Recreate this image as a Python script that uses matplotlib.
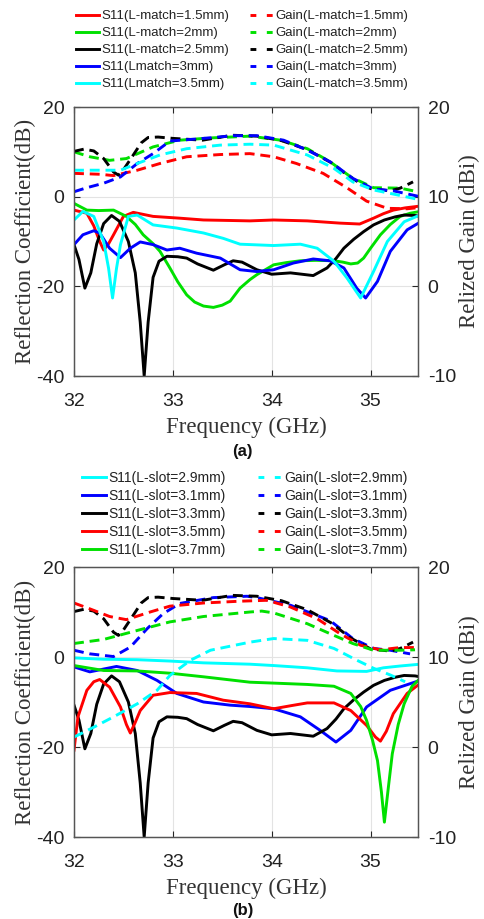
import matplotlib
matplotlib.use("Agg")
import matplotlib.pyplot as plt
from matplotlib.lines import Line2D

plt.rcParams["axes.unicode_minus"] = False

# ---------------- Panel (a): L-match ----------------
a_s11_names = ["S11(L-match=1.5mm)", "S11(L-match=2mm)", "S11(L-match=2.5mm)",
               "S11(Lmatch=3mm)", "S11(Lmatch=3.5mm)"]
a_gain_names = ["Gain(L-match=1.5mm)", "Gain(L-match=2mm)", "Gain(L-match=2.5mm)",
                "Gain(L-match=3mm)", "Gain(L-match=3.5mm)"]

# S11 (dB)
red_s11_x = [32.0, 32.13, 32.2, 32.26, 32.3, 32.35, 32.4, 32.5, 32.6, 32.8, 33.07, 33.31, 33.55, 33.78,
             34.02, 34.36, 34.69, 34.89, 35.03, 35.13, 35.23, 35.35, 35.5]
red_s11_y = [-3, -3.7, -6.5, -10, -11.9, -10.5, -8.5, -4.4, -3.5, -4.4, -4.8, -5.2, -5.3, -5.4,
             -5.2, -5.4, -5.9, -6.1, -4.8, -3.8, -3, -2.5, -2.1]

green_s11_x = [32.0, 32.13, 32.25, 32.4, 32.53, 32.62, 32.7, 32.8, 32.87, 32.97, 33.05, 33.14, 33.22, 33.31,
               33.41, 33.5, 33.58, 33.68, 33.78, 33.85, 34.02, 34.15, 34.29, 34.45, 34.63, 34.72, 34.8,
               34.87, 34.93, 35.0, 35.1, 35.2, 35.3, 35.4, 35.5]
green_s11_y = [-1.5, -3, -3.1, -3, -4.4, -6.2, -8.5, -10.5, -12.2, -15.9, -19, -21.9, -23.5, -24.4,
               -24.7, -24.2, -23.3, -20.4, -18.5, -17.4, -15.2, -14.7, -14.3, -14.2, -14.3, -14.6, -15,
               -14.8, -13.7, -11.5, -8.5, -6.2, -4.4, -3.7, -3.3]

black_s11_x = [32.0, 32.05, 32.11, 32.17, 32.23, 32.3, 32.38, 32.46, 32.55, 32.62, 32.67, 32.71, 32.75,
               32.8, 32.86, 32.94, 33.05, 33.14, 33.25, 33.41, 33.52, 33.61, 33.7, 33.85, 34.0, 34.19,
               34.42, 34.56, 34.65, 34.73, 34.83, 34.93, 35.03, 35.14, 35.25, 35.34, 35.45, 35.5]
black_s11_y = [-10.7, -14, -20.4, -17, -10.5, -6, -4.2, -5.5, -10, -17, -28, -40, -28,
               -18, -14.4, -13.3, -13.4, -13.7, -15, -16.4, -15.2, -14.3, -14.6, -16.3, -17.3, -17,
               -17.6, -15.9, -13.8, -11.5, -9.5, -7.8, -6.3, -5.2, -4.5, -4.1, -4.2, -4.4]

blue_s11_x = [32.0, 32.09, 32.2, 32.26, 32.36, 32.47, 32.57, 32.67, 32.8, 32.94, 33.07, 33.24, 33.48,
              33.68, 33.85, 34.02, 34.22, 34.42, 34.59, 34.73, 34.86, 34.95, 35.07, 35.2, 35.37, 35.5]
blue_s11_y = [-10.7, -8.5, -7.6, -8.1, -11.5, -13.6, -11.5, -10.1, -10.7, -11.9, -11.5, -12.6, -13.7,
              -16.3, -16.7, -16.3, -14.8, -13.9, -14.3, -15.9, -20.4, -22.6, -18.9, -12.2, -7.4, -5.7]

cyan_s11_x = [32.0, 32.09, 32.2, 32.3, 32.35, 32.39, 32.43, 32.47, 32.55, 32.64, 32.8, 33.04, 33.31,
              33.51, 33.68, 34.02, 34.29, 34.46, 34.63, 34.76, 34.9, 35.03, 35.17, 35.34, 35.5]
cyan_s11_y = [-5.2, -3.3, -4.4, -10, -16, -22.6, -16, -10.7, -4.4, -4.1, -6.3, -7, -8.1,
              -9.3, -10.6, -10.9, -10.6, -11.5, -14.4, -18.1, -22.6, -16.7, -10, -5.6, -4.1]

# Gain (dBi)
red_gain_x = [32.0, 32.26, 32.4, 32.64, 32.87, 33.14, 33.48, 33.78, 34.02, 34.25, 34.52, 34.76, 34.96,
              35.17, 35.37, 35.5]
red_gain_y = [12.6, 12.5, 12.35, 12.95, 13.7, 14.45, 14.7, 14.8, 14.45, 13.7, 12.6, 11.0, 9.5,
              8.7, 8.65, 8.8]

green_gain_x = [32.0, 32.16, 32.36, 32.53, 32.8, 33.07, 33.38, 33.78, 34.09, 34.36, 34.59, 34.8, 35.03,
                35.3, 35.5]
green_gain_y = [15, 14.45, 14.05, 14.25, 15.55, 16.3, 16.55, 16.75, 16.3, 15.35, 13.9, 12.2, 11,
                10.95, 10.5]

black_gain_x = [32.0, 32.1, 32.2, 32.3, 32.4, 32.45, 32.5, 32.6, 32.68, 32.75, 32.85, 33.0, 33.3, 33.6,
                33.85, 34.1, 34.36, 34.6, 34.8, 35.0, 35.2, 35.3, 35.43]
black_gain_y = [15.05, 15.3, 15.1, 14.25, 12.75, 12.4, 13.0, 14.65, 16.0, 16.6, 16.65, 16.5, 16.3, 16.85,
                16.75, 16.25, 15.25, 13.8, 12.1, 10.9, 10.65, 10.95, 11.65]

blue_gain_x = [32.0, 32.13, 32.3, 32.47, 32.64, 32.8, 32.97, 33.31, 33.61, 33.85, 34.12, 34.36, 34.59,
               34.82, 35.03, 35.23, 35.5]
blue_gain_y = [10.55, 11, 11.5, 12.2, 13.7, 14.8, 16.2, 16.5, 16.8, 16.8, 16.3, 15.2, 13.9,
               12.05, 10.85, 10.65, 10]

cyan_gain_x = [32.0, 32.3, 32.47, 32.64, 32.87, 33.14, 33.48, 33.78, 34.02, 34.36, 34.63, 34.82, 35.03,
               35.27, 35.5]
cyan_gain_y = [12.95, 12.95, 12.95, 13.7, 14.65, 15.35, 15.75, 15.85, 15.75, 14.65, 13.15, 11.65, 10.75,
               10.2, 9.65]

# ---------------- Panel (b): L-slot ----------------
b_s11_names = ["S11(L-slot=2.9mm)", "S11(L-slot=3.1mm)", "S11(L-slot=3.3mm)",
               "S11(L-slot=3.5mm)", "S11(L-slot=3.7mm)"]
b_gain_names = ["Gain(L-slot=2.9mm)", "Gain(L-slot=3.1mm)", "Gain(L-slot=3.3mm)",
                "Gain(L-slot=3.5mm)", "Gain(L-slot=3.7mm)"]

b_cyan_s11_x = [32.0, 32.3, 32.64, 32.97, 33.31, 33.78, 34.02, 34.36, 34.66, 34.96, 35.13, 35.3, 35.5]
b_cyan_s11_y = [-0.2, -0.5, -0.6, -0.9, -1.3, -1.6, -1.9, -2.4, -3.1, -3.2, -2.4, -2.0, -1.6]

b_blue_s11_x = [32.0, 32.16, 32.43, 32.64, 32.84, 33.04, 33.31, 33.58, 33.78, 34.02, 34.29, 34.49, 34.65,
                34.8, 34.96, 35.2, 35.5]
b_blue_s11_y = [-2.2, -3.3, -2.1, -3, -5.2, -8.1, -10, -10.7, -11, -11.5, -13.3, -16.3, -18.9,
                -16.3, -11.1, -7.4, -5.2]

b_black_s11_x = black_s11_x
b_black_s11_y = black_s11_y

b_red_s11_x = [32.0, 32.04, 32.13, 32.2, 32.26, 32.36, 32.47, 32.53, 32.57, 32.62, 32.67, 32.8, 32.97,
               33.24, 33.51, 33.78, 34.02, 34.2, 34.36, 34.63, 34.8, 34.96, 35.05, 35.1, 35.16, 35.23,
               35.37, 35.5]
b_red_s11_y = [-20.7, -13.3, -7.4, -5.5, -5, -6.7, -11.1, -15, -16.9, -14.5, -11.9, -8.5, -7.9,
               -8.1, -9.6, -10.4, -11.5, -10.8, -10.2, -10.2, -11.9, -15.2, -17.8, -18.7, -16.5, -12.6,
               -8.1, -5.9]

b_green_s11_x = [32.0, 32.3, 32.64, 32.97, 33.31, 33.78, 34.02, 34.36, 34.63, 34.8, 34.9, 34.96, 35.02,
                 35.07, 35.11, 35.14, 35.18, 35.22, 35.28, 35.34, 35.42, 35.5]
b_green_s11_y = [-1.9, -3, -3.1, -3.6, -4.4, -5.6, -5.8, -6.1, -6.5, -8.1, -11, -14.1, -18.5,
                 -23, -30, -36.7, -29, -21.5, -15, -10.4, -6.5, -4.8]

b_cyan_gain_x = [32.0, 32.2, 32.4, 32.64, 32.84, 32.97, 33.18, 33.38, 33.78, 34.02, 34.36, 34.63, 34.86,
                 35.03, 35.2, 35.35]
b_cyan_gain_y = [1.1, 2.2, 3.35, 4.8, 6.3, 7.95, 9.65, 10.75, 11.65, 12.05, 11.85, 10.95, 9.65,
                 8.75, 8.0, 7.25]

b_blue_gain_x = [32.0, 32.16, 32.4, 32.57, 32.74, 32.9, 33.07, 33.41, 33.75, 33.85, 34.19, 34.59, 34.82,
                 35.03, 35.2, 35.4]
b_blue_gain_y = [10.75, 10.35, 10.05, 11.1, 13.15, 14.8, 15.95, 16.6, 16.75, 16.6, 15.75, 14.05, 12.05,
                 10.95, 10.75, 10.35]

b_black_gain_x = black_gain_x
b_black_gain_y = black_gain_y

b_red_gain_x = [32.0, 32.16, 32.36, 32.53, 32.77, 32.97, 33.31, 33.68, 33.95, 34.19, 34.46, 34.69, 34.9,
                35.1, 35.3, 35.5]
b_red_gain_y = [16, 15.35, 14.5, 14.15, 15, 15.65, 16, 16.2, 16.3, 15.55, 14.25, 12.6, 11.3,
                10.8, 11.05, 11.05]

b_green_gain_x = [32.0, 32.3, 32.64, 32.97, 33.31, 33.78, 33.9, 34.02, 34.36, 34.63, 34.82, 35.03, 35.3,
                  35.45]
b_green_gain_y = [11.5, 11.95, 12.95, 13.9, 14.5, 15, 15.1, 14.9, 13.7, 12.4, 11.5, 10.75, 10.75, 10.8]

x_ticks = [32, 33, 34, 35]
left_ticks = [-40, -20, 0, 20]
right_ticks = [-10, 0, 10, 20]

RED, GREEN, BLACK, BLUE, CYAN = "#ff0000", "#00e000", "#000000", "#0000ff", "#00ffff"

SANS = ["Liberation Sans", "DejaVu Sans"]
SERIF = ["Liberation Serif", "DejaVu Serif"]
GRAY = "#262626"

W, H = 485, 919
fig = plt.figure(figsize=(W / 100, H / 100), dpi=100)

LW = 2.1
DASH = (3.4, 2.0)


def make_panel(ax_rect, s11, gains, s11_names, gain_names, legend_anchor, leg_size,
               leg_colspace, leg_labelspacing, tag, tag_y):
    ax = fig.add_axes(ax_rect)
    ax2 = ax.twinx()
    handles_s = []
    for (x, y, c), name in zip(s11, s11_names):
        ax.plot(x, y, color=c, lw=LW, solid_joinstyle="round")
        handles_s.append(Line2D([], [], color=c, lw=LW, label=name))
    handles_g = []
    for (x, y, c), name in zip(gains, gain_names):
        ax2.plot(x, y, color=c, lw=LW, dashes=DASH)
        handles_g.append(Line2D([], [], color=c, lw=LW, dashes=(2.0, 3.6), label=name))
    ax.set_xlim(32, 35.48)
    ax.set_ylim(-40, 20)
    ax2.set_ylim(-10, 20)
    ax.set_xticks(x_ticks)
    ax.set_yticks(left_ticks)
    ax2.set_yticks(right_ticks)
    ax.grid(True, color="#e3e3e3", lw=0.8)
    ax.set_axisbelow(True)
    for a in (ax, ax2):
        a.tick_params(direction="in", length=4, width=0.8, colors=GRAY, labelsize=14, pad=7)
        for sp in a.spines.values():
            sp.set_color("#555555")
            sp.set_linewidth(0.9)
        for lab in a.get_xticklabels() + a.get_yticklabels():
            lab.set_family(SANS)
            lab.set_color("#222222")
    ax.tick_params(axis="x", top=True, bottom=True, pad=12)
    ax.set_xlabel("Frequency (GHz)", family=SERIF, fontsize=16.5, color="#333333", labelpad=5)
    ax.set_ylabel("Reflection Coefficient(dB)", family=SERIF, fontsize=16.5, color="#333333",
                  labelpad=0)
    ax2.set_ylabel("Relized Gain (dBi)", family=SERIF, fontsize=16.5, color="#333333", labelpad=2)
    leg = fig.legend(handles=handles_s + handles_g, ncol=2, loc="upper left",
                     bbox_to_anchor=legend_anchor, frameon=False,
                     prop={"family": SANS, "size": leg_size}, handlelength=1.75, handletextpad=0.15,
                     columnspacing=leg_colspace, labelspacing=leg_labelspacing, borderaxespad=0,
                     borderpad=0)
    for t in leg.get_texts():
        t.set_color("#222222")
    fig.text(0.5, tag_y, tag, ha="center", va="center", family=SANS, fontsize=12,
             fontweight="bold", color="#111111")
    return ax, ax2


make_panel([74 / W, 1 - 376 / H, 344 / W, 269 / H],
           [(red_s11_x, red_s11_y, RED), (green_s11_x, green_s11_y, GREEN),
            (black_s11_x, black_s11_y, BLACK), (blue_s11_x, blue_s11_y, BLUE),
            (cyan_s11_x, cyan_s11_y, CYAN)],
           [(red_gain_x, red_gain_y, RED), (green_gain_x, green_gain_y, GREEN),
            (black_gain_x, black_gain_y, BLACK), (blue_gain_x, blue_gain_y, BLUE),
            (cyan_gain_x, cyan_gain_y, CYAN)],
           a_s11_names, a_gain_names, (76 / W, 1 - 10 / H), 9.5, 1.6, 0.36, "(a)", 1 - 452 / H)

make_panel([74 / W, 1 - 837 / H, 344 / W, 270 / H],
           [(b_cyan_s11_x, b_cyan_s11_y, CYAN), (b_blue_s11_x, b_blue_s11_y, BLUE),
            (b_black_s11_x, b_black_s11_y, BLACK), (b_red_s11_x, b_red_s11_y, RED),
            (b_green_s11_x, b_green_s11_y, GREEN)],
           [(b_cyan_gain_x, b_cyan_gain_y, CYAN), (b_blue_gain_x, b_blue_gain_y, BLUE),
            (b_black_gain_x, b_black_gain_y, BLACK), (b_red_gain_x, b_red_gain_y, RED),
            (b_green_gain_x, b_green_gain_y, GREEN)],
           b_s11_names, b_gain_names, (82 / W, 1 - 471 / H), 10, 2.3, 0.28, "(b)", 1 - 911 / H)

fig.savefig("out.png", dpi=100)
